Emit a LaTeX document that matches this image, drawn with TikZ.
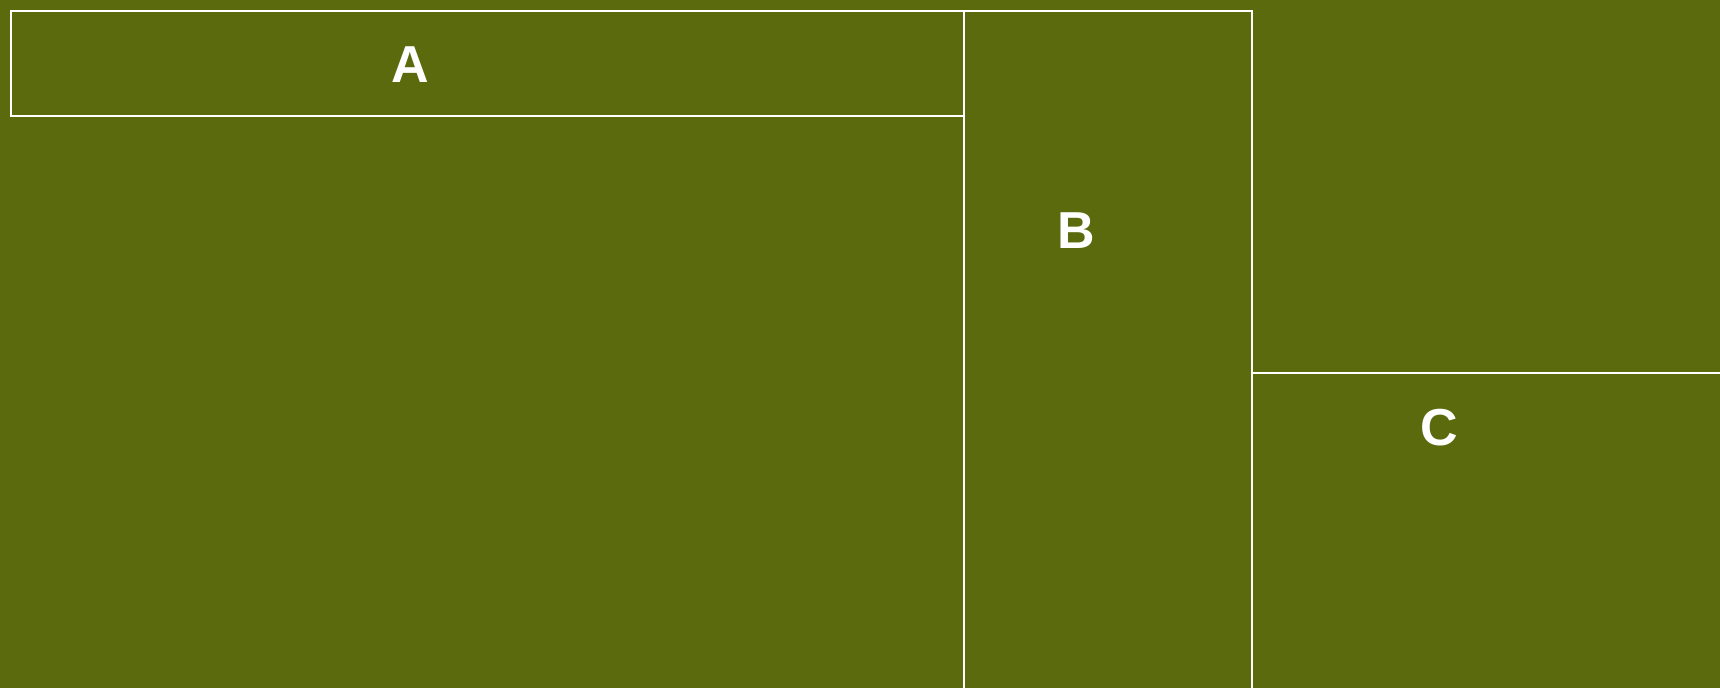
\documentclass[tikz,border=0pt]{standalone}
\usepackage{fontspec}
\setmainfont{Liberation Sans}
\usepackage{xcolor}
\usetikzlibrary{positioning}
\definecolor{olive}{HTML}{5B6A0C}
\begin{document}
\begin{tikzpicture}[x=1pt,y=-1pt,
  panel/.style={draw=white,line width=2pt,anchor=north west,inner sep=0pt,outer sep=0pt},
  tag/.style={text=white,font=\fontsize{52}{62}\selectfont\bfseries,inner sep=0pt}]
  \fill[olive] (0,0) rectangle (1720,688);
  \useasboundingbox (0,0) rectangle (1720,688);
  \clip (0,0) rectangle (1720,688);
  \node[panel,minimum width=953pt,minimum height=105pt] (pa) at (10.5,10.5) {};
  \node[panel,minimum width=288pt,minimum height=700pt] (pb) at (pa.north east) {};
  \node[panel,minimum width=480pt,minimum height=340pt] (pc) at (pb.north east |- 0,373) {};
  \node[tag] (la) at (410,65)   {A};
  \node[tag] (lb) at (1076,231) {B};
  \node[tag] (lc) at (1439,428) {C};
\end{tikzpicture}
\end{document}
